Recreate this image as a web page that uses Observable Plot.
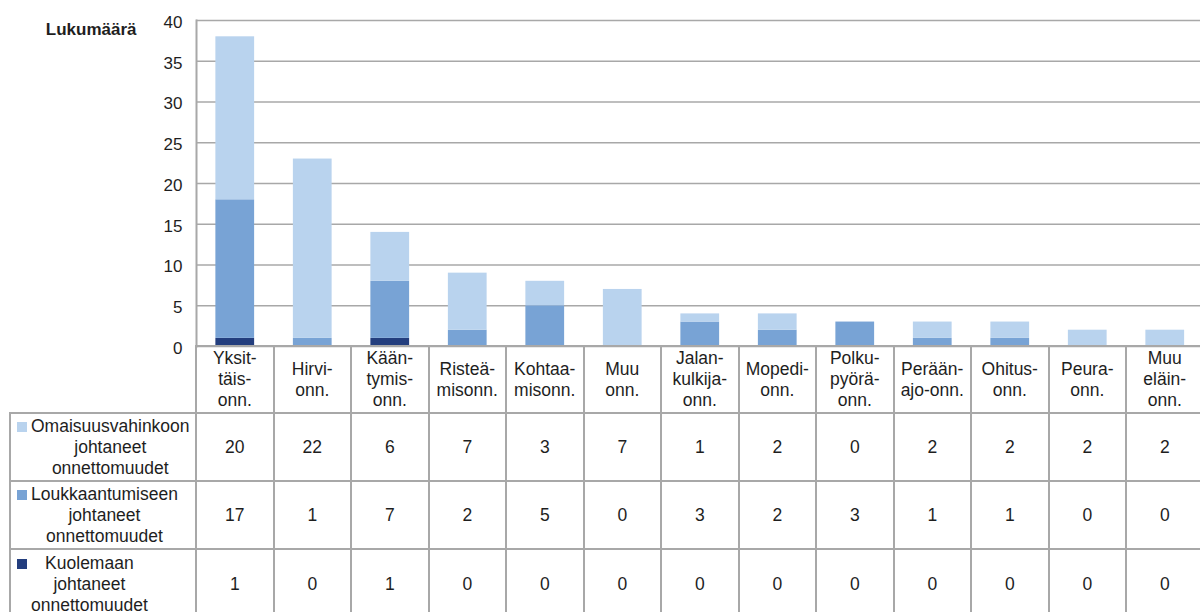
<!DOCTYPE html>
<html>
<head>
<meta charset="utf-8">
<script src="https://cdn.jsdelivr.net/npm/d3@7"></script>
<script src="https://cdn.jsdelivr.net/npm/@observablehq/plot@0.6"></script>
<style>
  body { margin: 0; background: #fff; font-family: "Liberation Sans", Arial, sans-serif; }
  #wrap { position: relative; width: 1200px; height: 612px; overflow: hidden; background: #fff; }
  #wrap svg { position: absolute; left: 0; top: 0; }
  table { position: absolute; border-collapse: collapse; table-layout: fixed; font-size: 17.5px; color: #1e1e1e; }
  td { border: 2px solid #a8a8a8; text-align: center; vertical-align: middle; padding: 0; line-height: 21px; white-space: pre-line; }
  td.blank { border: none; }
  td.labcell { text-align: left; position: relative; padding-left: 20px; }
  .lab { display: inline-block; text-align: center; }
  .sw { position: absolute; left: 6px; top: 50%; width: 10px; height: 10px; margin-top: -25px; }
</style>
</head>
<body>
<div id="wrap"></div>
<script>
// ---- data ----
const categories = [
  "Yksit-\ntäis-\nonn.", "Hirvi-\nonn.", "Kään-\ntymis-\nonn.", "Risteä-\nmisonn.",
  "Kohtaa-\nmisonn.", "Muu\nonn.", "Jalan-\nkulkija-\nonn.", "Mopedi-\nonn.",
  "Polku-\npyörä-\nonn.", "Perään-\najo-onn.", "Ohitus-\nonn.", "Peura-\nonn.", "Muu\neläin-\nonn."
];
const seriesNames = [
  "Kuolemaan\njohtaneet\nonnettomuudet",
  "Loukkaantumiseen\njohtaneet\nonnettomuudet",
  "Omaisuusvahinkoon\njohtaneet\nonnettomuudet"
];
const kuolema = [1, 0, 1, 0, 0, 0, 0, 0, 0, 0, 0, 0, 0];
const loukkaantuminen = [17, 1, 7, 2, 5, 0, 3, 2, 3, 1, 1, 0, 0];
const omaisuus = [20, 22, 6, 7, 3, 7, 1, 2, 0, 2, 2, 2, 2];
const seriesColors = ["#233e7e", "#78a3d5", "#b9d3ee"];
const yTicks = [0, 5, 10, 15, 20, 25, 30, 35, 40];
const yLabel = "Lukumäärä";

// tidy table for the bars (bottom to top)
const seriesValues = [kuolema, loukkaantuminen, omaisuus];
const data = [];
seriesNames.forEach((s, si) => {
  categories.forEach((c, ci) => data.push({category: c, series: s, value: seriesValues[si][ci]}));
});

const gridColor = "#a8a8a8";

const chart = Plot.plot({
  width: 1200,
  height: 350,
  marginTop: 20,
  marginBottom: 4,
  marginLeft: 196,
  marginRight: 0,
  style: {fontFamily: "'Liberation Sans', Arial, sans-serif", fontSize: "17px", color: "#1e1e1e", background: "transparent", overflow: "visible"},
  x: {domain: categories, range: [196, 1203.5], paddingInner: 0.5, paddingOuter: 0.25, round: false, axis: null},
  y: {domain: [0, 40], range: [346, 20], axis: null},
  color: {domain: seriesNames, range: seriesColors},
  marks: [
    Plot.ruleY(yTicks, {stroke: gridColor, strokeWidth: 1.6}),
    Plot.frame({anchor: "left", stroke: gridColor, strokeWidth: 2}),
    Plot.barY(data, {x: "category", y: "value", fill: "series"}),
    Plot.axisY(yTicks, {tickSize: 0, tickPadding: 14, fontSize: 17, label: null, dy: 2}),
    Plot.text([yLabel], {frameAnchor: "top-left", text: d => d, dx: -60, dy: 2, textAnchor: "end", fontWeight: "bold", fontSize: 17})
  ]
});

const wrap = document.getElementById("wrap");
wrap.appendChild(chart);

// ---- data table below the chart, columns sized from the x scale ----
const xs = chart.scale("x");
const step = xs.step;
const left0 = 10;
const labelW = xs.range[0] - left0;
const tableTop = chart.scale("y").range[0] - 1;

const table = d3.select(wrap).append("table")
  .style("left", (left0 - 1) + "px")
  .style("top", tableTop + "px")
  .style("width", (labelW + step * categories.length + 2) + "px");

const cg = table.append("colgroup");
cg.append("col").style("width", labelW + "px");
categories.forEach(() => cg.append("col").style("width", step + "px"));

const head = table.append("tr").style("height", "67px");
head.append("td").attr("class", "blank");
categories.forEach(c => head.append("td").text(c));

const rowOrder = [2, 1, 0];
const rowHeights = [68, 68, 70];
rowOrder.forEach((si, ri) => {
  const tr = table.append("tr").style("height", rowHeights[ri] + "px");
  const cell = tr.append("td").attr("class", "labcell");
  cell.append("span").attr("class", "sw").style("background", seriesColors[si]);
  cell.append("span").attr("class", "lab").text(seriesNames[si]);
  seriesValues[si].forEach(v => tr.append("td").text(v));
});
</script>
</body>
</html>
